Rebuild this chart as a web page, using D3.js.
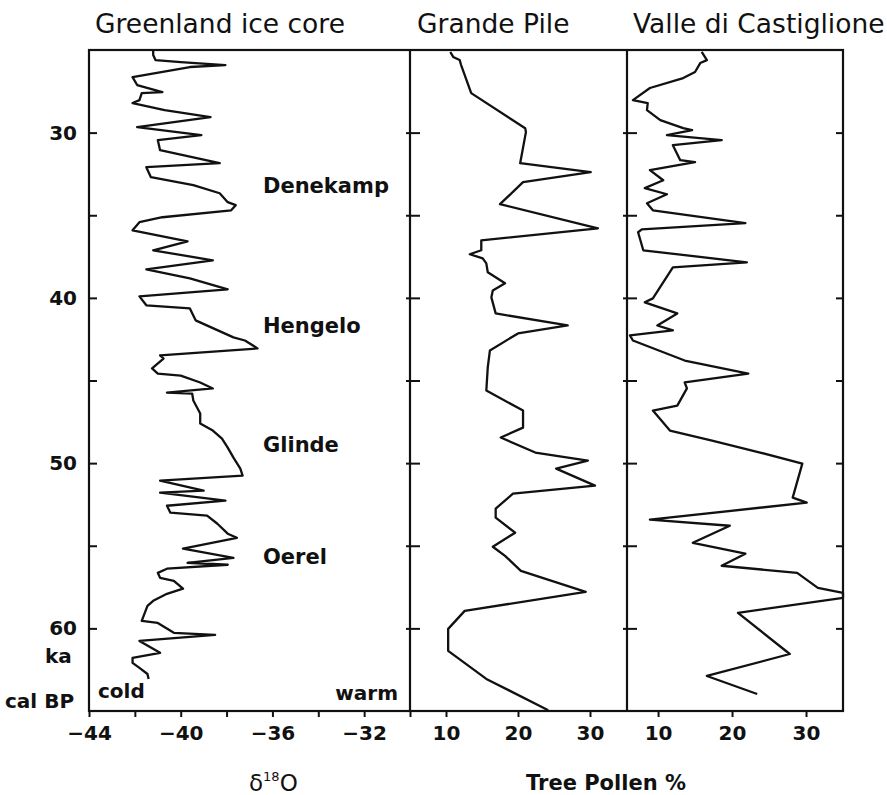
<!DOCTYPE html>
<html>
<head>
<meta charset="utf-8">
<title>Greenland ice core, Grande Pile, Valle di Castiglione</title>
<script src="https://d3js.org/d3.v7.min.js"></script>
<style>
  body { margin: 0; background: #fff; }
  svg { display: block; font-family: "DejaVu Sans", sans-serif; }
  .title { font-size: 26.5px; fill: #111; }
  .lbl { font-size: 20px; font-weight: bold; fill: #111; }
  .ev { font-size: 21px; }
  .axis text { font-size: 20px; font-weight: bold; fill: #111; font-family: "DejaVu Sans", sans-serif; }
  .axis line { stroke: #111; stroke-width: 2; }
  .curve { fill: none; stroke: #111; stroke-width: 2.3; stroke-linejoin: round; }
</style>
</head>
<body>
<script>
// Greenland ice core: age (ka cal BP) and d18O
const iceAge = [25.05, 25.3, 25.61, 25.73, 25.91, 26.03, 26.64, 27.12, 27.55, 27.61,
  28.03, 28.21, 28.64, 29.06, 29.67, 30.15, 30.45, 31.06, 31.85, 32.09,
  32.7, 33.18, 33.67, 34.21, 34.39, 34.7, 35.12, 35.42, 35.91, 36.58,
  37.12, 37.73, 38.27, 38.82, 39.48, 39.91, 40.45, 40.64, 41.36, 42.39,
  42.58, 43.06, 43.48, 43.67, 44.27, 44.58, 44.7, 45.12, 45.48, 45.73,
  45.79, 46.21, 47.0, 47.6, 48.03, 48.52, 49.06, 49.67, 50.33, 50.76,
  51.06, 51.67, 51.79, 52.27, 52.58, 53.0, 53.18, 53.67, 54.27, 54.52,
  55.18, 55.73, 56.03, 56.15, 56.39, 56.64, 56.94, 57.12, 57.6, 57.91,
  58.33, 58.64, 59.55, 59.67, 60.27, 60.39, 60.76, 61.48, 61.79, 62.09,
  62.39, 62.76, 63.06]
const iceD18O = [-41.2, -41.2, -41.1, -40.0, -38.05, -39.6, -42.1, -41.9, -40.8, -41.7,
  -41.8, -42.1, -40.7, -38.7, -41.9, -39.1, -41.0, -40.9, -38.3, -41.5,
  -41.3, -39.45, -38.3, -37.95, -37.6, -37.8, -40.8, -41.8, -42.1, -39.7,
  -41.2, -38.6, -41.5, -39.6, -37.95, -41.8, -41.5, -39.6, -39.35, -37.7,
  -37.2, -36.65, -40.9, -40.75, -41.25, -41.0, -40.0, -39.15, -38.6, -40.6,
  -39.5, -39.45, -39.15, -39.15, -38.6, -38.2, -37.95, -37.7, -37.4, -37.3,
  -40.9, -39.0, -40.9, -38.05, -40.6, -40.45, -38.85, -38.4, -37.95, -37.55,
  -39.9, -37.7, -39.7, -37.95, -40.6, -41.0, -40.9, -40.3, -39.9, -40.6,
  -41.2, -41.45, -41.7, -41.0, -40.3, -38.5, -41.8, -40.9, -42.1, -42.1,
  -41.8, -41.45, -41.4]

// Grande Pile: age and tree pollen %
const pileAge = [25.12, 25.42, 25.61, 25.91, 27.61, 29.73, 29.97, 31.85, 32.39, 33.0,
  34.33, 35.79, 36.52, 37.12, 37.36, 37.61, 37.91, 38.45, 39.12, 39.55,
  39.97, 40.94, 41.67, 42.15, 43.18, 44.21, 45.61, 46.82, 47.85, 48.45,
  49.36, 49.85, 50.33, 51.36, 51.85, 52.76, 53.3, 54.21, 55.06, 55.61,
  56.52, 57.79, 58.94, 60.03, 61.36, 63.06, 64.95]
const pilePollen = [10.6, 11.0, 11.9, 12.1, 13.5, 21.0, 21.1, 20.3, 30.1, 20.7,
  17.5, 31.1, 14.9, 14.9, 13.3, 15.1, 15.6, 15.8, 18.2, 16.5,
  16.3, 16.9, 26.9, 20.0, 16.1, 15.8, 15.6, 20.7, 20.7, 17.6,
  22.4, 29.7, 25.3, 30.7, 19.3, 16.9, 16.9, 19.6, 16.5, 18.2,
  20.4, 29.4, 12.6, 10.3, 10.3, 15.6, 24.2]

// Valle di Castiglione: age and tree pollen %
const valleAge = [25.12, 25.61, 25.79, 26.33, 26.7, 27.3, 28.03, 28.21, 28.64, 29.24,
  29.73, 29.85, 30.15, 30.45, 30.76, 31.67, 31.79, 32.27, 32.88, 33.36,
  33.73, 34.27, 34.7, 35.48, 35.85, 36.03, 37.12, 37.85, 38.15, 40.03,
  40.27, 40.94, 41.67, 41.97, 42.27, 42.58, 43.79, 44.58, 45.12, 45.48,
  46.52, 46.82, 48.03, 48.64, 49.36, 50.03, 52.09, 52.39, 53.42, 53.79,
  54.82, 55.48, 56.21, 56.64, 57.55, 57.85, 58.15, 59.06, 61.55, 62.88,
  63.97]
const vallePollen = [15.9, 16.6, 15.7, 15.0, 13.4, 8.9, 6.6, 8.6, 8.5, 10.3,
  13.4, 14.6, 11.2, 18.6, 12.0, 13.0, 15.0, 8.9, 10.7, 8.2,
  11.2, 8.5, 9.3, 21.8, 7.8, 7.3, 8.0, 22.0, 12.0, 9.3,
  8.2, 12.6, 9.9, 12.0, 6.2, 6.6, 13.6, 22.2, 13.6, 13.9,
  12.6, 9.3, 11.6, 17.3, 23.8, 29.5, 28.2, 30.1, 8.9, 19.7,
  14.7, 21.8, 18.6, 28.8, 31.6, 35.0, 35.0, 20.8, 27.8, 16.6,
  23.4]

const ageTicks = [30, 35, 40, 45, 50, 55, 60]
const ageLabels = [30, 40, 50, 60]
const iceTicks = [-44, -42, -40, -38, -36, -34, -32, -30]
const iceLabels = [-44, -40, -36, -32]
const pollenTicks = [10, 20, 30]
const titles = ["Greenland ice core", "Grande Pile", "Valle di Castiglione"]
const eventNames = ["Denekamp", "Hengelo", "Glinde", "Oerel"]
const eventAges = [33.2, 41.7, 48.9, 55.7]

const w = 887, h = 795

const svg = d3.select("body").append("svg")
  .attr("width", w).attr("height", h)
  .style("background", "#fff")

const y = d3.scaleLinear().domain([25, 65]).range([50, 711])
const xIce = d3.scaleLinear().domain([-44, -30]).range([89, 410])
const xPile = d3.scaleLinear().domain([5, 35]).range([410, 626])
const xValle = d3.scaleLinear().domain([5.8, 35]).range([627, 843])

// frame + dividers
const x0 = xIce.range()[0], x1 = xValle.range()[1]
svg.append("rect")
  .attr("x", x0).attr("y", y.range()[0])
  .attr("width", x1 - x0).attr("height", y.range()[1] - y.range()[0])
  .attr("fill", "none").attr("stroke", "#111").attr("stroke-width", 2.2)
;[xPile.range()[0], xValle.range()[0]].forEach(xd => {
  svg.append("line")
    .attr("x1", xd).attr("x2", xd)
    .attr("y1", y.range()[0]).attr("y2", y.range()[1])
    .attr("stroke", "#111").attr("stroke-width", 2.2)
})

// age axis (left), labels only on 30/40/50/60
svg.append("g").attr("class", "axis")
  .attr("transform", `translate(${x0},0)`)
  .call(d3.axisLeft(y).tickValues(ageTicks).tickSize(-8).tickPadding(12)
    .tickFormat(d => ageLabels.includes(d) ? d : ""))
  .call(g => g.select(".domain").remove())

// crossing ticks on the dividers
;[xPile.range()[0], xValle.range()[0]].forEach(xd => {
  svg.append("g").attr("class", "axis")
    .attr("transform", `translate(${xd},0)`)
    .call(d3.axisLeft(y).tickValues(ageTicks).tickSize(4).tickFormat(""))
    .call(g => g.select(".domain").remove())
  svg.append("g").attr("class", "axis")
    .attr("transform", `translate(${xd},0)`)
    .call(d3.axisRight(y).tickValues(ageTicks).tickSize(10).tickFormat(""))
    .call(g => g.select(".domain").remove())
})

// right edge ticks point inward
svg.append("g").attr("class", "axis")
  .attr("transform", `translate(${x1},0)`)
  .call(d3.axisLeft(y).tickValues(ageTicks).tickSize(7).tickFormat(""))
  .call(g => g.select(".domain").remove())

// bottom axes
const yb = y.range()[1]
svg.append("g").attr("class", "axis")
  .attr("transform", `translate(0,${yb})`)
  .call(d3.axisBottom(xIce).tickValues(iceTicks).tickSize(6).tickPadding(9)
    .tickFormat(d => iceLabels.includes(d) ? "\u2212" + Math.abs(d) : ""))
  .call(g => g.select(".domain").remove())

;[xPile, xValle].forEach(sc => {
  svg.append("g").attr("class", "axis")
    .attr("transform", `translate(0,${yb})`)
    .call(d3.axisBottom(sc).tickValues(pollenTicks).tickSize(6).tickPadding(9))
    .call(g => g.select(".domain").remove())
})

// curves
const line = xs => d3.line().x(d => xs(d[1])).y(d => y(d[0]))

svg.append("path").attr("class", "curve")
  .attr("d", line(xIce)(d3.zip(iceAge, iceD18O)))
svg.append("path").attr("class", "curve")
  .attr("d", line(xPile)(d3.zip(pileAge, pilePollen)))
svg.append("path").attr("class", "curve")
  .attr("d", line(xValle)(d3.zip(valleAge, vallePollen)))

// panel titles
const titleX = [95, 417, 633]
titles.forEach((t, i) => {
  svg.append("text").attr("class", "title")
    .attr("x", titleX[i]).attr("y", 33).text(t)
})

// interstadial names
svg.selectAll(".ev").data(d3.zip(eventNames, eventAges)).enter().append("text")
  .attr("class", "lbl ev")
  .attr("x", 263)
  .attr("y", d => y(d[1]) + 7)
  .text(d => d[0])

// corner labels
svg.append("text").attr("class", "lbl").attr("x", 45).attr("y", 663).text("ka")
svg.append("text").attr("class", "lbl").attr("x", 5).attr("y", 708).text("cal BP")
svg.append("text").attr("class", "lbl").attr("x", 98).attr("y", 698).text("cold")
svg.append("text").attr("class", "lbl").attr("x", 398).attr("y", 700)
  .attr("text-anchor", "end").text("warm")

// axis titles
const dlab = svg.append("text").attr("x", 249).attr("y", 791)
  .style("font-size", "23px").attr("fill", "#111")
dlab.append("tspan").text("\u03b4")
dlab.append("tspan").attr("dy", -10).style("font-size", "13px").text("18")
dlab.append("tspan").attr("dy", 10).text("O")

svg.append("text").attr("class", "lbl")
  .attr("x", 606).attr("y", 790).attr("text-anchor", "middle")
  .style("font-size", "21px")
  .text("Tree Pollen %")
</script>
</body>
</html>
